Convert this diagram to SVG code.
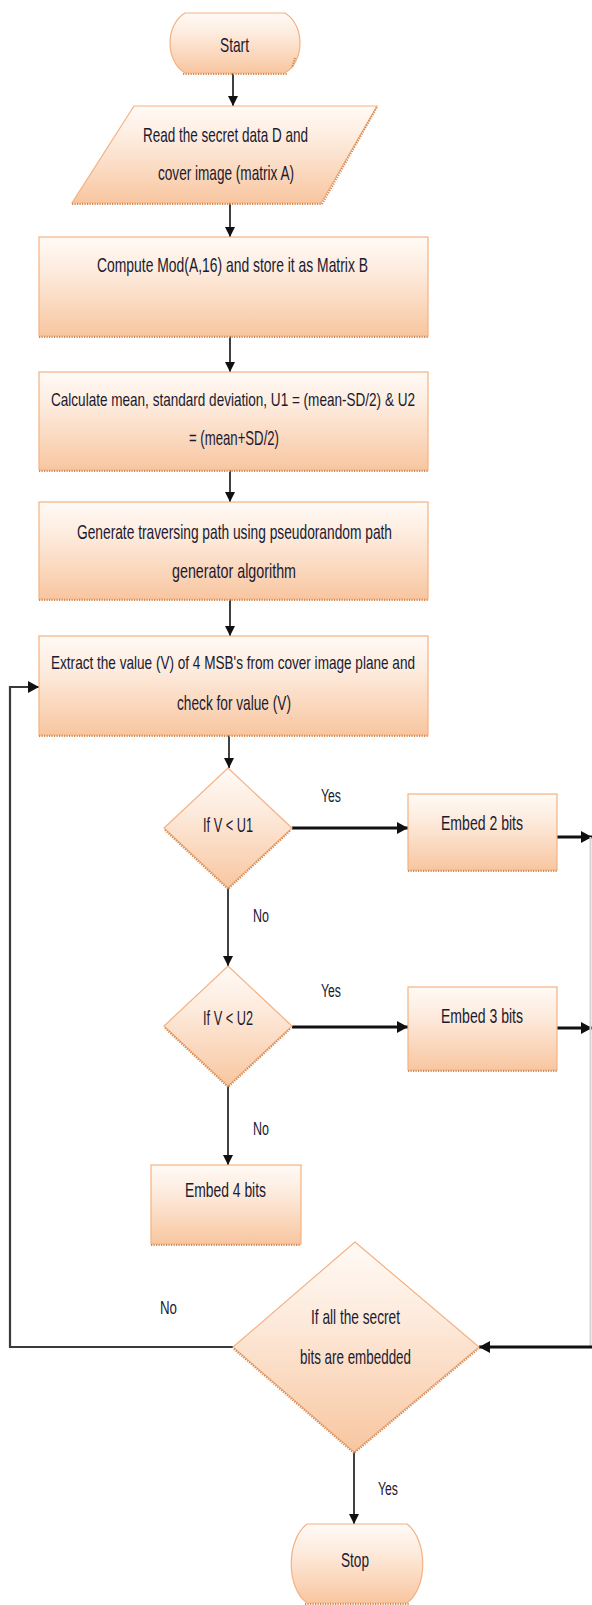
<svg xmlns="http://www.w3.org/2000/svg" width="592" height="1605" viewBox="0 0 592 1605">
<style>
.shape{fill:url(#peach);stroke:#f4b183;stroke-width:1.2}
.shadow{fill:none;stroke:#d28a55;stroke-width:2.2;stroke-dasharray:1.2 1.3}
.t{font-family:"Liberation Sans Narrow","Liberation Sans",Arial,sans-serif;font-size:21px;fill:#1a1a30;text-anchor:middle}
.tl{font-size:19px}
.lbl{font-family:"Liberation Sans Narrow","Liberation Sans",Arial,sans-serif;font-size:18px;fill:#1a1a30;text-anchor:middle}
.c{fill:none;stroke:#111;stroke-width:1.6}
.ck{fill:none;stroke:#111;stroke-width:3.2}
.loop{fill:none;stroke:#3a3a3a;stroke-width:2.2}
</style>
<defs>
<linearGradient id="peach" x1="0" y1="0" x2="0" y2="1">
<stop offset="0" stop-color="#fffaf6"/>
<stop offset="0.35" stop-color="#fdebdd"/>
<stop offset="1" stop-color="#f8c6a0"/>
</linearGradient>
<marker id="ah" markerUnits="userSpaceOnUse" markerWidth="10" markerHeight="10" viewBox="0 0 10 10" refX="10" refY="5" orient="auto">
<path d="M0,0 L10,5 L0,10 Z" fill="#111"/>
</marker>
<marker id="ahk" markerUnits="userSpaceOnUse" markerWidth="11" markerHeight="12" viewBox="0 0 11 12" refX="11" refY="6" orient="auto">
<path d="M0,0 L11,6 L0,12 Z" fill="#111"/>
</marker>
</defs>

<g id="connectors">
<line class="c" x1="233" y1="73" x2="233" y2="106" marker-end="url(#ah)"/>
<line class="c" x1="230" y1="203" x2="230" y2="237" marker-end="url(#ah)"/>
<line class="c" x1="230" y1="336" x2="230" y2="372" marker-end="url(#ah)"/>
<line class="c" x1="230" y1="470" x2="230" y2="502" marker-end="url(#ah)"/>
<line class="c" x1="230" y1="599" x2="230" y2="636" marker-end="url(#ah)"/>
<line class="c" x1="229" y1="735" x2="229" y2="768" marker-end="url(#ah)"/>
<line class="ck" x1="292" y1="828" x2="408" y2="828" marker-end="url(#ahk)"/>
<line class="ck" x1="557" y1="837" x2="592" y2="837" marker-end="url(#ahk)"/>
<line class="c" x1="228" y1="888" x2="228" y2="966" marker-end="url(#ah)"/>
<line class="ck" x1="292" y1="1027" x2="408" y2="1027" marker-end="url(#ahk)"/>
<line class="ck" x1="557" y1="1028" x2="592" y2="1028" marker-end="url(#ahk)"/>
<line x1="590.5" y1="837" x2="590.5" y2="1347" stroke="#d4d4d4" stroke-width="2"/>
<line class="c" x1="228" y1="1086" x2="228" y2="1165" marker-end="url(#ah)"/>
<line class="ck" x1="592" y1="1347" x2="479" y2="1347" marker-end="url(#ahk)"/>
<polyline class="loop" points="233,1347 10,1347 10,687 39,687" marker-end="url(#ahk)"/>
<line class="c" x1="354" y1="1452" x2="354" y2="1524" marker-end="url(#ah)"/>
</g>

<g id="start">
<path class="shape" d="M185,13 H285 C305,25 305,61 285,73 H185 C165,61 165,25 185,13 Z"/>
<path class="shadow" d="M183,74 H287 M295,58 L292,68"/>
<text class="t" x="234.5" y="52" textLength="29" lengthAdjust="spacingAndGlyphs">Start</text>
</g>

<g id="read">
<polygon class="shape" points="134,106 377,106 321,203 72,203"/>
<path class="shadow" d="M72,204 H322 L377,107"/>
<text class="t" x="225.5" y="142" textLength="165" lengthAdjust="spacingAndGlyphs">Read the secret data D and</text>
<text class="t" x="226" y="180" textLength="136" lengthAdjust="spacingAndGlyphs">cover image (matrix A)</text>
</g>

<g id="compute">
<rect class="shape" x="39" y="237" width="389" height="99"/>
<path class="shadow" d="M39,337 H428"/>
<text class="t" x="232.5" y="272" textLength="271" lengthAdjust="spacingAndGlyphs">Compute Mod(A,16) and store it as Matrix B</text>
</g>

<g id="calculate">
<rect class="shape" x="39" y="372" width="389" height="98"/>
<path class="shadow" d="M39,471 H428"/>
<text class="t tl" x="233" y="406" textLength="364" lengthAdjust="spacingAndGlyphs">Calculate mean, standard deviation, U1 = (mean-SD/2) &amp; U2</text>
<text class="t" x="234" y="445" textLength="90" lengthAdjust="spacingAndGlyphs">= (mean+SD/2)</text>
</g>

<g id="generate">
<rect class="shape" x="39" y="502" width="389" height="97"/>
<path class="shadow" d="M39,600 H428"/>
<text class="t" x="234.5" y="539" textLength="315" lengthAdjust="spacingAndGlyphs">Generate traversing path using pseudorandom path</text>
<text class="t" x="234" y="578" textLength="124" lengthAdjust="spacingAndGlyphs">generator algorithm</text>
</g>

<g id="extract">
<rect class="shape" x="39" y="636" width="389" height="99"/>
<path class="shadow" d="M39,736 H428"/>
<text class="t tl" x="233" y="669" textLength="364" lengthAdjust="spacingAndGlyphs">Extract the value (V) of 4 MSB's from cover image plane and</text>
<text class="t" x="234" y="710" textLength="114" lengthAdjust="spacingAndGlyphs">check for value (V)</text>
</g>

<g id="decision1">
<polygon class="shape" points="228,768 292,828 228,888 164,828"/>
<path class="shadow" d="M165,830 L228,889 L291,830"/>
<text class="t" x="228" y="832" textLength="50" lengthAdjust="spacingAndGlyphs">If V &lt; U1</text>
<text class="lbl" x="331" y="802" textLength="20" lengthAdjust="spacingAndGlyphs">Yes</text>
<text class="lbl" x="261" y="922" textLength="16" lengthAdjust="spacingAndGlyphs">No</text>
</g>

<g id="embed2">
<rect class="shape" x="408" y="794" width="149" height="76"/>
<path class="shadow" d="M408,871 H557"/>
<text class="t" x="482" y="830" textLength="82" lengthAdjust="spacingAndGlyphs">Embed 2 bits</text>
</g>

<g id="decision2">
<polygon class="shape" points="228,966 292,1026 228,1086 164,1026"/>
<path class="shadow" d="M165,1028 L228,1087 L291,1028"/>
<text class="t" x="228" y="1025" textLength="50" lengthAdjust="spacingAndGlyphs">If V &lt; U2</text>
<text class="lbl" x="331" y="997" textLength="20" lengthAdjust="spacingAndGlyphs">Yes</text>
<text class="lbl" x="261" y="1135" textLength="16" lengthAdjust="spacingAndGlyphs">No</text>
</g>

<g id="embed3">
<rect class="shape" x="408" y="987" width="149" height="83"/>
<path class="shadow" d="M408,1071 H557"/>
<text class="t" x="482" y="1023" textLength="82" lengthAdjust="spacingAndGlyphs">Embed 3 bits</text>
</g>

<g id="embed4">
<rect class="shape" x="151" y="1165" width="150" height="79"/>
<path class="shadow" d="M151,1245 H301"/>
<text class="t" x="225.5" y="1197" textLength="81" lengthAdjust="spacingAndGlyphs">Embed 4 bits</text>
</g>

<g id="decision3">
<polygon class="shape" points="355,1242 479,1347 354,1452 233,1347"/>
<path class="shadow" d="M234,1349 L354,1453 L478,1349"/>
<text class="t" x="355.5" y="1324" textLength="89" lengthAdjust="spacingAndGlyphs">If all the secret</text>
<text class="t" x="355.5" y="1364" textLength="111" lengthAdjust="spacingAndGlyphs">bits are embedded</text>
<text class="lbl" x="168.5" y="1314" textLength="17" lengthAdjust="spacingAndGlyphs">No</text>
<text class="lbl" x="388" y="1495" textLength="20" lengthAdjust="spacingAndGlyphs">Yes</text>
</g>

<g id="stop">
<path class="shape" d="M307,1524 H407 C428,1540 428,1588 407,1603 H307 C286,1588 286,1540 307,1524 Z"/>
<path class="shadow" d="M305,1604 H409"/>
<text class="t" x="355" y="1567" textLength="28" lengthAdjust="spacingAndGlyphs">Stop</text>
</g>
</svg>
